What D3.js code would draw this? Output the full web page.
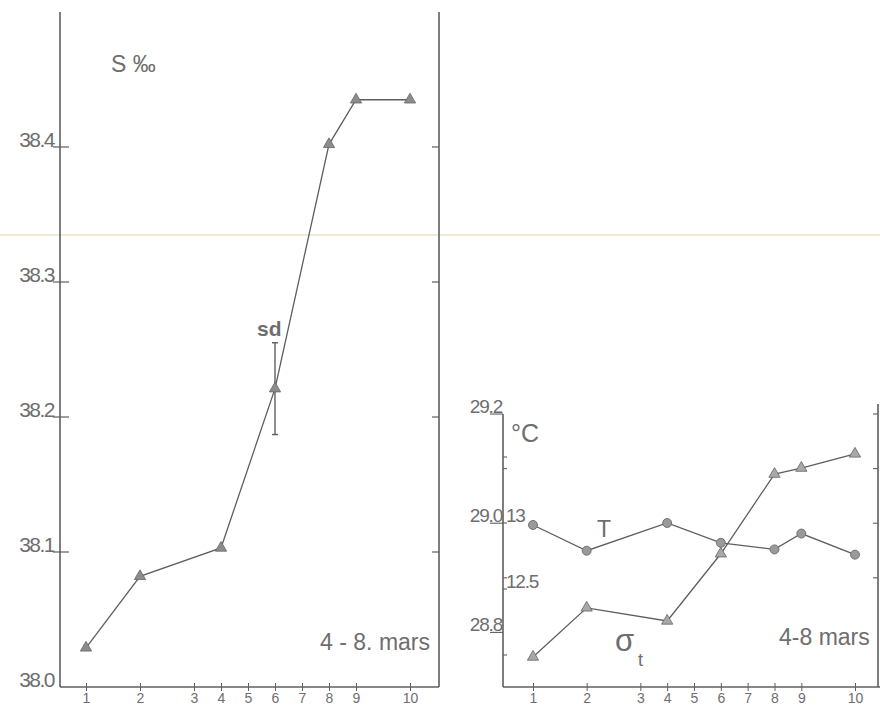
<!DOCTYPE html>
<html><head><meta charset="utf-8">
<script src="https://cdn.jsdelivr.net/npm/d3@7"></script>
<style>
body{margin:0;background:#fff}
svg{display:block}
text{font-family:"Liberation Sans",Arial,sans-serif;fill:#6e6e6e}
</style>
</head><body><svg id="c" width="880" height="708"></svg>
<script>
// ---------- data ----------
const stations = [1,2,3,4,5,6,7,8,9,10];
const stationDistance = [0,2,4,5,6,7,8,9,10,12];   // relative along-section spacing of stations
const sStations = [1,2,4,6,8,9,10];
const salinity = [38.029,38.082,38.103,38.221,38.402,38.435,38.435];
const sdStation = 6;
const sdValue = 0.034;
const salTicks = [38.0,38.1,38.2,38.3,38.4];
const salTickLabels = ["38.0","38.1","38.2","38.3","38.4"];

const tStations = [1,2,4,6,8,9,10];
const temperature = [12.985,12.79,13.0,12.85,12.80,12.92,12.76];
const sigmaT = [28.755,28.845,28.821,28.944,29.09,29.101,29.127];
const sigmaTicksLabeled = [29.2,29.0,28.8];
const sigmaTickLabels = ["29.2","29.0","28.8"];
const sigmaTicksMinor = [29.1,28.9];
const sigmaTicksRight = [29.2,29.1,29.0,28.9];
const tempTicksLabeled = [13,12.5];
const tempTickLabels = ["13","12.5"];
const tempTicksMinor = [13.5,12.0];

const distOf = s => stationDistance[stations.indexOf(s)];

const svg = d3.select("#c");
const ink = "#5e5e5e";

// faint scan fold line
svg.append("line").attr("x1",0).attr("x2",880).attr("y1",235).attr("y2",235)
  .attr("stroke","#f1ead0").attr("stroke-width",2);

// ================= LEFT PANEL (salinity) =================
const xL = d3.scaleLinear().domain([0,12]).range([86,410]);
const yS = d3.scaleLinear().domain([38.0,38.5]).range([687,12]);
const gL = svg.append("g");

gL.append("line").attr("x1",60).attr("x2",60).attr("y1",yS(38.5)).attr("y2",yS(38.0)).attr("stroke",ink).attr("stroke-width",1.6);
gL.append("line").attr("x1",439).attr("x2",439).attr("y1",yS(38.5)).attr("y2",yS(38.0)).attr("stroke",ink).attr("stroke-width",1.6);

const axL = gL.append("g").attr("transform","translate(0,687)")
  .call(d3.axisBottom(xL).tickValues(stationDistance).tickFormat((d,i)=>stations[i]).tickSize(4).tickPadding(2));
axL.select(".domain").attr("d","M60,0H439").attr("stroke",ink).attr("stroke-width",1.6);
axL.selectAll(".tick line").attr("y1",-4).attr("y2",4).attr("stroke",ink);
axL.selectAll(".tick text").attr("font-size",14).attr("fill","#7a7a7a").attr("font-family","Liberation Sans, Arial, sans-serif");

salTicks.forEach((v,i)=>{
  const y = yS(v);
  if (i>0) {
    gL.append("line").attr("x1",53).attr("x2",69).attr("y1",y).attr("y2",y).attr("stroke",ink).attr("stroke-width",1.2);
    gL.append("line").attr("x1",432).attr("x2",439).attr("y1",y).attr("y2",y).attr("stroke",ink).attr("stroke-width",1.2);
  }
  gL.append("text").attr("x",54).attr("y",y).attr("text-anchor","end")
    .attr("font-size",21).attr("letter-spacing",-1.5).text(salTickLabels[i]);
});

const lineL = d3.line().x((d,i)=>xL(distOf(sStations[i]))).y(d=>yS(d));
gL.append("path").datum(salinity).attr("d",lineL).attr("fill","none").attr("stroke",ink).attr("stroke-width",1.3);

const sdX = xL(distOf(sdStation));
const sdY = salinity[sStations.indexOf(sdStation)];
gL.append("line").attr("x1",sdX).attr("x2",sdX).attr("y1",yS(sdY+sdValue)).attr("y2",yS(sdY-sdValue)).attr("stroke",ink).attr("stroke-width",1.4);
[sdY+sdValue, sdY-sdValue].forEach(v=>gL.append("line").attr("x1",sdX-3).attr("x2",sdX+3).attr("y1",yS(v)).attr("y2",yS(v)).attr("stroke",ink).attr("stroke-width",1.4));

const tri = d3.symbol().type(d3.symbolTriangle).size(55);
gL.selectAll("path.m").data(salinity).join("path").attr("class","m")
  .attr("d",tri).attr("transform",(d,i)=>`translate(${xL(distOf(sStations[i]))},${yS(d)})`)
  .attr("fill","#8c8c8c").attr("stroke","#666").attr("stroke-width",0.8);

gL.append("text").attr("x",111).attr("y",72).attr("font-size",23).text("S ‰");
gL.append("text").attr("x",sdX-18).attr("y",yS(sdY+sdValue)-7).attr("font-size",21).attr("font-weight","bold").attr("fill","#777").text("sd");
gL.append("text").attr("x",430).attr("y",650).attr("text-anchor","end").attr("font-size",23).text("4 - 8. mars");

// ================= RIGHT PANEL (T and sigma-t) =================
const xR = d3.scaleLinear().domain([0,12]).range([533,855]);
const ySig = d3.scaleLinear().domain([28.7,29.2]).range([687,414]);
const yT = d3.scaleLinear().domain([12.0,13.5]).range([655,457]);
const gR = svg.append("g");

gR.append("line").attr("x1",503).attr("x2",503).attr("y1",ySig(29.2)).attr("y2",687).attr("stroke",ink).attr("stroke-width",1.6);
gR.append("line").attr("x1",878).attr("x2",878).attr("y1",404).attr("y2",687).attr("stroke",ink).attr("stroke-width",1.6);

const axR = gR.append("g").attr("transform","translate(0,687)")
  .call(d3.axisBottom(xR).tickValues(stationDistance).tickFormat((d,i)=>stations[i]).tickSize(4).tickPadding(2));
axR.select(".domain").attr("d","M503,0H880").attr("stroke",ink).attr("stroke-width",1.6);
axR.selectAll(".tick line").attr("y1",-4).attr("y2",4).attr("stroke",ink);
axR.selectAll(".tick text").attr("font-size",14).attr("fill","#7a7a7a").attr("font-family","Liberation Sans, Arial, sans-serif");

sigmaTicksLabeled.forEach((v,i)=>{
  const y = ySig(v);
  gR.append("line").attr("x1",490).attr("x2",503).attr("y1",y).attr("y2",y).attr("stroke",ink).attr("stroke-width",1.1);
  gR.append("text").attr("x",502).attr("y",y-1).attr("text-anchor","end").attr("font-size",19).attr("letter-spacing",-1.2).text(sigmaTickLabels[i]);
});
sigmaTicksMinor.forEach(v=>{
  gR.append("line").attr("x1",503).attr("x2",507).attr("y1",ySig(v)).attr("y2",ySig(v)).attr("stroke",ink).attr("stroke-width",1.1);
});
sigmaTicksRight.forEach(v=>{
  gR.append("line").attr("x1",873).attr("x2",878).attr("y1",ySig(v)).attr("y2",ySig(v)).attr("stroke",ink).attr("stroke-width",1.1);
});
tempTicksLabeled.forEach((v,i)=>{
  const y = yT(v);
  gR.append("line").attr("x1",503).attr("x2",507).attr("y1",y).attr("y2",y).attr("stroke",ink).attr("stroke-width",1.1);
  gR.append("text").attr("x",506).attr("y",y-1).attr("font-size",19).attr("letter-spacing",-1.2).text(tempTickLabels[i]);
});
tempTicksMinor.forEach(v=>{
  gR.append("line").attr("x1",503).attr("x2",507).attr("y1",yT(v)).attr("y2",yT(v)).attr("stroke",ink).attr("stroke-width",1.1);
});

const lineT = d3.line().x((d,i)=>xR(distOf(tStations[i]))).y(d=>yT(d));
const lineSig = d3.line().x((d,i)=>xR(distOf(tStations[i]))).y(d=>ySig(d));
gR.append("path").datum(temperature).attr("d",lineT).attr("fill","none").attr("stroke",ink).attr("stroke-width",1.3);
gR.append("path").datum(sigmaT).attr("d",lineSig).attr("fill","none").attr("stroke",ink).attr("stroke-width",1.3);

gR.selectAll("circle.t").data(temperature).join("circle").attr("class","t")
  .attr("cx",(d,i)=>xR(distOf(tStations[i]))).attr("cy",d=>yT(d)).attr("r",4.5)
  .attr("fill","#9a9a9a").attr("stroke","#6a6a6a").attr("stroke-width",0.9);
gR.selectAll("path.s").data(sigmaT).join("path").attr("class","s")
  .attr("d",tri).attr("transform",(d,i)=>`translate(${xR(distOf(tStations[i]))},${ySig(d)})`)
  .attr("fill","#a8a8a8").attr("stroke","#666").attr("stroke-width",0.8);

gR.append("text").attr("x",511).attr("y",442).attr("font-size",25).text("°C");
gR.append("text").attr("x",597).attr("y",537).attr("font-size",23).text("T");
gR.append("text").attr("x",615).attr("y",651).attr("font-size",31).text("σ");
gR.append("text").attr("x",638).attr("y",666).attr("font-size",18).text("t");
gR.append("text").attr("x",779).attr("y",645).attr("font-size",23).text("4-8 mars");
</script>
</body></html>
